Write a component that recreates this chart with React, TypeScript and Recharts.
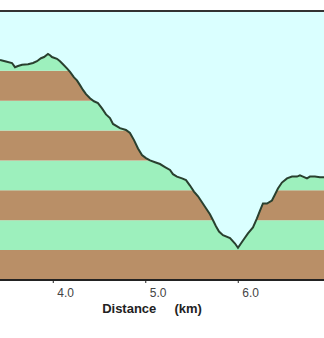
import {
  Area,
  ComposedChart,
  ReferenceArea,
  ReferenceLine,
  XAxis,
  YAxis,
} from "recharts";

const distanceKm = [
  3.424, 3.478, 3.554, 3.586, 3.619, 3.662, 3.727, 3.781, 3.824, 3.867, 3.9,
  3.943, 3.965, 3.986, 4.04, 4.073, 4.105, 4.148, 4.181, 4.224, 4.256, 4.289,
  4.321, 4.354, 4.397, 4.44, 4.483, 4.527, 4.57, 4.613, 4.646, 4.721, 4.786,
  4.829, 4.873, 4.916, 4.959, 5.002, 5.046, 5.1, 5.154, 5.208, 5.262, 5.294,
  5.337, 5.392, 5.435, 5.478, 5.521, 5.565, 5.608, 5.651, 5.694, 5.727, 5.759,
  5.792, 5.835, 5.911, 5.965, 5.997, 6.051, 6.105, 6.159, 6.202, 6.235, 6.267,
  6.31, 6.364, 6.397, 6.429, 6.472, 6.527, 6.581, 6.635, 6.667, 6.7, 6.743,
  6.775, 6.829, 6.883, 6.927,
];

const elevationM = [
  1618, 1616, 1613, 1606, 1608, 1610, 1611, 1613, 1616, 1621, 1623, 1628, 1626,
  1623, 1620, 1616, 1611, 1604, 1598, 1589, 1584, 1576, 1568, 1561, 1554, 1549,
  1546, 1537, 1527, 1521, 1511, 1504, 1501, 1496, 1484, 1470, 1459, 1454, 1450,
  1447, 1444, 1439, 1434, 1427, 1423, 1420, 1417, 1408, 1398, 1390, 1380, 1370,
  1360, 1350, 1340, 1331, 1325, 1320, 1311, 1304, 1316, 1328, 1338, 1353, 1366,
  1378, 1378, 1383, 1393, 1403, 1413, 1420, 1423, 1423, 1425, 1423, 1420, 1423,
  1423, 1422, 1422,
];

const xTicks = [4, 5, 6];
const bandEdges = [1250, 1300, 1350, 1400, 1450, 1500, 1550, 1600, 1650, 1700];

const SKY = "#daffff";
const GREEN = "#9df0bd";
const BROWN = "#b98f67";
const LINE = "#29402f";

const data = distanceKm.map((km, i) => ({ km, elev: elevationM[i] }));

function DistTick(props: any) {
  const { x, y, payload } = props;
  return (
    <text
      x={x + 4}
      y={y}
      dy="0.71em"
      textAnchor="start"
      fontSize={12}
      fontFamily="Liberation Sans, Arial, sans-serif"
      fill="#444"
    >
      {Number(payload.value).toFixed(1)}
    </text>
  );
}

export default function App() {
  return (
    <div style={{ position: "absolute", left: 0, top: 0, background: "#fff" }}>
      <ComposedChart
        width={324}
        height={338}
        data={data}
        margin={{ top: 11, right: 0, left: 0, bottom: 0 }}
      >
        {bandEdges.slice(0, -1).map((lo, i) => (
          <ReferenceArea
            key={lo}
            y1={lo}
            y2={bandEdges[i + 1]}
            fill={i % 2 === 0 ? BROWN : GREEN}
            fillOpacity={1}
            stroke="none"
            ifOverflow="hidden"
          />
        ))}
        <Area
          dataKey="elev"
          type="linear"
          baseValue={1700}
          fill={SKY}
          fillOpacity={1}
          stroke={LINE}
          strokeWidth={2}
          isAnimationActive={false}
          dot={false}
          activeDot={false}
        />
        <ReferenceLine y={1700} stroke="#333" strokeWidth={2} />
        <XAxis
          dataKey="km"
          type="number"
          domain={[3.424, 6.927]}
          allowDataOverflow
          ticks={xTicks}
          height={58}
          tickSize={3}
          tickMargin={5}
          axisLine={{ stroke: "#222", strokeWidth: 2 }}
          tickLine={{ stroke: "#222" }}
          tick={<DistTick />}
          label={{
            value: "Distance\u00a0\u00a0\u00a0\u00a0\u00a0(km)",
            position: "insideBottom",
            offset: 25,
            dx: -10,
            fontSize: 13,
            fontWeight: "bold",
            fontFamily: "Liberation Sans, Arial, sans-serif",
            fill: "#222",
          }}
        />
        <YAxis hide domain={[1250, 1700]} allowDataOverflow />
      </ComposedChart>
    </div>
  );
}
